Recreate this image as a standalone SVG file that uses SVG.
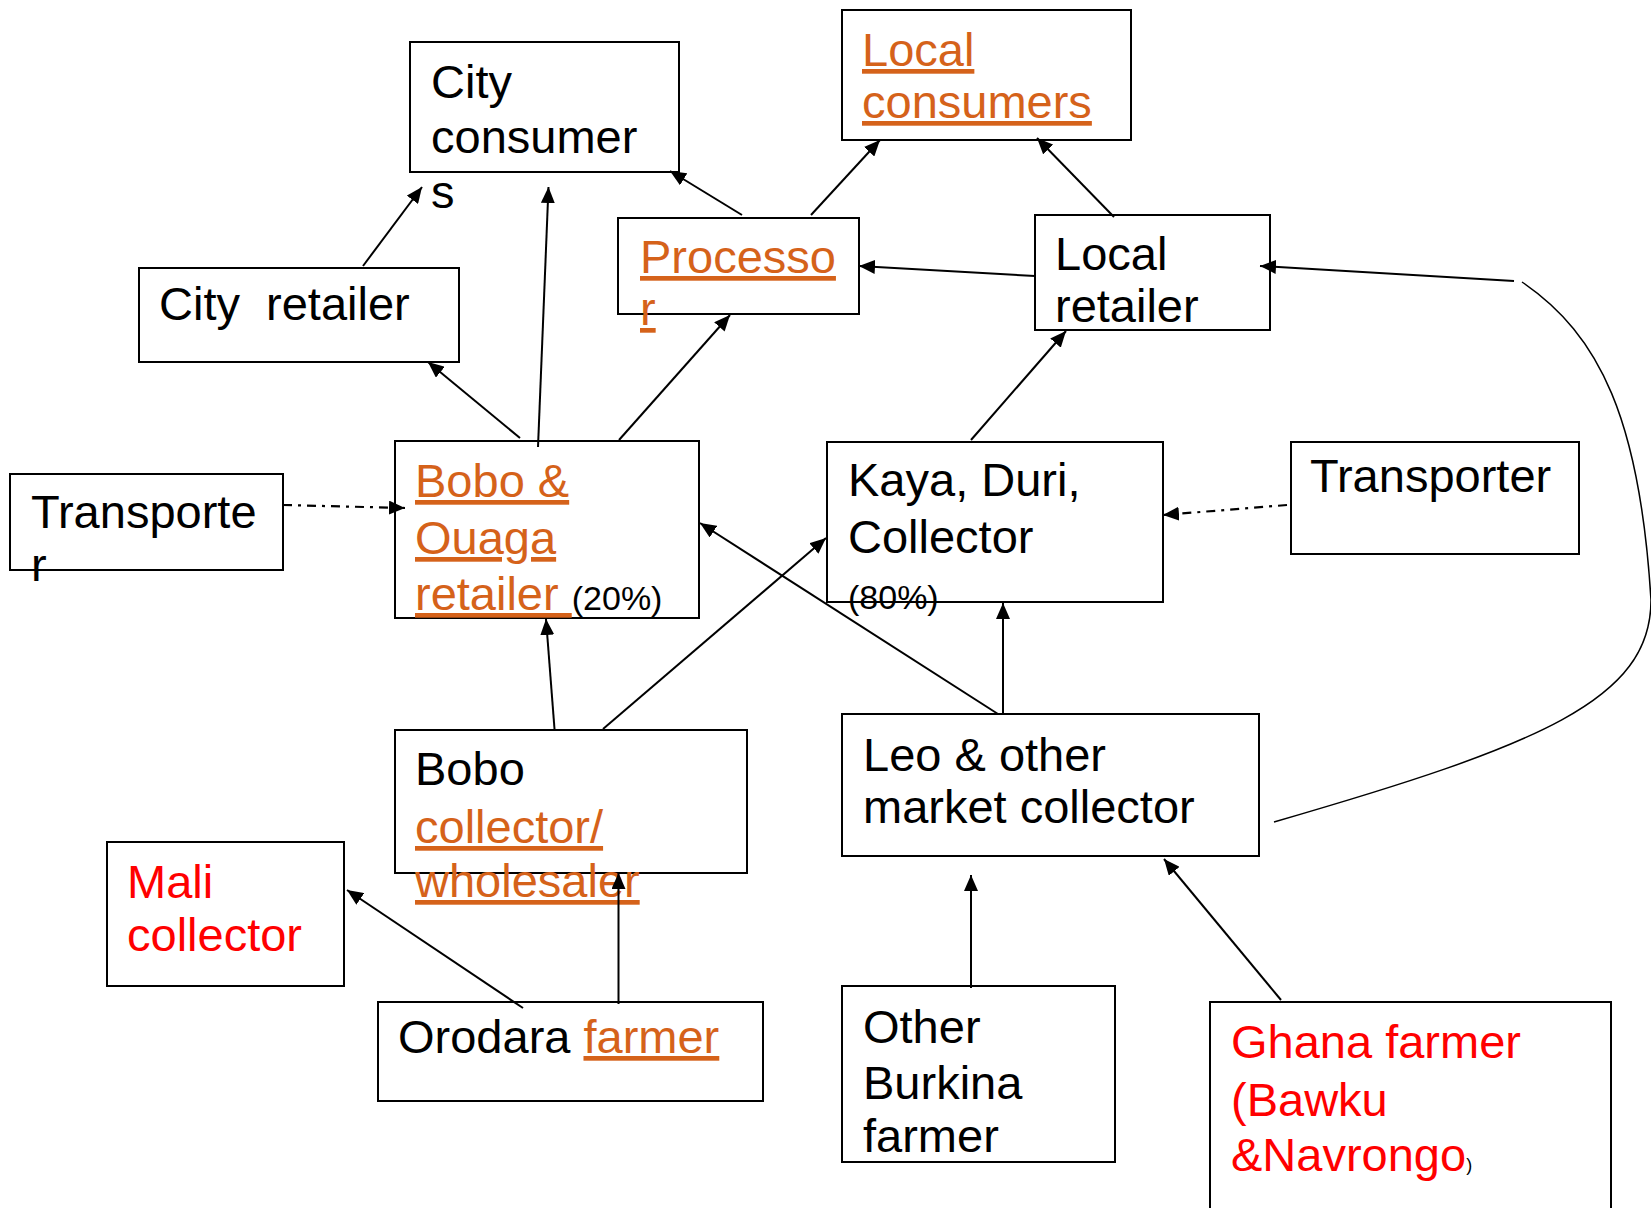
<svg xmlns="http://www.w3.org/2000/svg" width="1651" height="1208" viewBox="0 0 1651 1208">
<style>
  .box { fill: none; stroke: #000; stroke-width: 2; }
  text { font-family: "Liberation Sans", Arial, sans-serif; font-size: 47px; fill: #000; }
  .o { fill: #D5621A; text-decoration: underline; }
  .r { fill: #FF0000; }
  .sm { font-size: 34px; }
  .tiny { font-size: 18px; }
  .c { fill: none; stroke: #000; stroke-width: 2; marker-end: url(#ah); }
  .dd { stroke-dasharray: 9 6 3 6; stroke-width: 2.2; }
  .cv { fill: none; stroke: #000; stroke-width: 1.5; }
</style>
<defs>
  <marker id="ah" viewBox="0 0 16 14" refX="16" refY="7" markerWidth="16" markerHeight="14" markerUnits="userSpaceOnUse" orient="auto">
    <path d="M0,0 L16,7 L0,14 z" fill="#000"/>
  </marker>
</defs>
<rect width="1651" height="1208" fill="#fff"/>

<g id="city-consumers">
  <rect class="box" x="410" y="42" width="269" height="130"/>
  <text x="431" y="98">City</text>
  <text x="431" y="153">consumer</text>
  <text x="431" y="208">s</text>
</g>
<g id="local-consumers">
  <rect class="box" x="842" y="10" width="289" height="130"/>
  <text x="862" y="66" class="o">Local</text>
  <text x="862" y="118" class="o">consumers</text>
</g>
<g id="city-retailer">
  <rect class="box" x="139" y="268" width="320" height="94"/>
  <text x="159" y="320" xml:space="preserve">City  retailer</text>
</g>
<g id="processor">
  <rect class="box" x="618" y="218" width="241" height="96"/>
  <text x="640" y="273" class="o">Processo</text>
  <text x="640" y="325" class="o">r</text>
</g>
<g id="local-retailer">
  <rect class="box" x="1035" y="215" width="235" height="115"/>
  <text x="1055" y="270">Local</text>
  <text x="1055" y="322">retailer</text>
</g>
<g id="transporter-left">
  <rect class="box" x="10" y="474" width="273" height="96"/>
  <text x="31" y="528">Transporte</text>
  <text x="31" y="581">r</text>
</g>
<g id="bobo-ouaga-retailer">
  <rect class="box" x="395" y="441" width="304" height="177"/>
  <text x="415" y="497" class="o">Bobo &amp;</text>
  <text x="415" y="554" class="o">Ouaga</text>
  <text x="415" y="610" xml:space="preserve"><tspan class="o">retailer </tspan><tspan class="sm">(20%)</tspan></text>
</g>
<g id="kaya-collector">
  <rect class="box" x="827" y="442" width="336" height="160"/>
  <text x="848" y="496">Kaya, Duri,</text>
  <text x="848" y="553">Collector</text>
  <text x="848" y="609" class="sm">(80%)</text>
</g>
<g id="transporter-right">
  <rect class="box" x="1291" y="442" width="288" height="112"/>
  <text x="1310" y="492">Transporter</text>
</g>
<g id="bobo-collector">
  <rect class="box" x="395" y="730" width="352" height="143"/>
  <text x="415" y="785">Bobo</text>
  <text x="415" y="843" class="o">collector/</text>
  <text x="415" y="897" class="o">wholesaler</text>
</g>
<g id="leo-collector">
  <rect class="box" x="842" y="714" width="417" height="142"/>
  <text x="863" y="771">Leo &amp; other</text>
  <text x="863" y="823">market collector</text>
</g>
<g id="mali-collector">
  <rect class="box" x="107" y="842" width="237" height="144"/>
  <text x="127" y="898" class="r">Mali</text>
  <text x="127" y="951" class="r">collector</text>
</g>
<g id="orodara-farmer">
  <rect class="box" x="378" y="1002" width="385" height="99"/>
  <text x="398" y="1053">Orodara <tspan class="o">farmer</tspan></text>
</g>
<g id="other-burkina-farmer">
  <rect class="box" x="842" y="986" width="273" height="176"/>
  <text x="863" y="1043">Other</text>
  <text x="863" y="1099">Burkina</text>
  <text x="863" y="1152">farmer</text>
</g>
<g id="ghana-farmer">
  <rect class="box" x="1210" y="1002" width="401" height="230"/>
  <text x="1231" y="1058" class="r">Ghana farmer</text>
  <text x="1231" y="1116" class="r">(Bawku</text>
  <text x="1231" y="1171"><tspan class="r">&amp;Navrongo</tspan><tspan class="tiny">)</tspan></text>
</g>

<g id="connectors">
  <line class="c" x1="363" y1="266" x2="422" y2="187"/>
  <line class="c" x1="538" y1="447" x2="548.5" y2="187"/>
  <line class="c" x1="742" y1="215" x2="670" y2="171"/>
  <line class="c" x1="520" y1="438" x2="428" y2="362"/>
  <line class="c" x1="619" y1="440" x2="730" y2="315"/>
  <line class="c dd" x1="283" y1="505" x2="405" y2="508"/>
  <line class="c" x1="998" y1="714" x2="700" y2="523"/>
  <line class="c" x1="603" y1="729" x2="826" y2="538"/>
  <line class="c" x1="811" y1="215" x2="880" y2="140"/>
  <line class="c" x1="1114" y1="217" x2="1037" y2="138"/>
  <line class="c" x1="1035" y1="276" x2="859" y2="266"/>
  <line class="c" x1="1514" y1="281" x2="1260" y2="266"/>
  <path class="cv" d="M1522,282 C1600,335 1640,420 1651,600 C1651,700 1540,745 1274,822"/>
  <line class="c" x1="971" y1="440" x2="1066" y2="331"/>
  <line class="c dd" x1="1287" y1="505" x2="1163" y2="515"/>
  <line class="c" x1="1003" y1="714" x2="1003" y2="603"/>
  <line class="c" x1="554.5" y1="729" x2="546" y2="619"/>
  <line class="c" x1="523" y1="1008" x2="347" y2="890"/>
  <line class="c" x1="618.5" y1="1004" x2="618.5" y2="873"/>
  <line class="c" x1="971" y1="988" x2="971" y2="875"/>
  <line class="c" x1="1281" y1="1000" x2="1164" y2="859"/>
</g>
</svg>
